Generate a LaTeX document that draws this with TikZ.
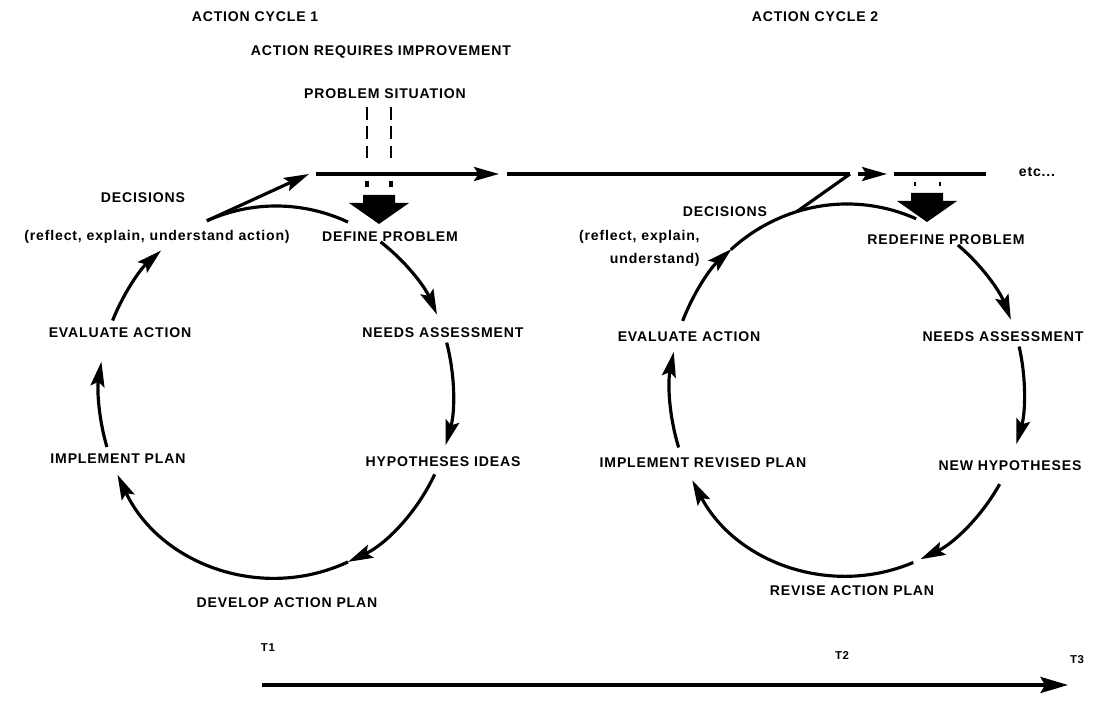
\documentclass[tikz,border=0pt]{standalone}
\usepackage{fontspec}
\setmainfont{Liberation Sans}[LetterSpace=6]
\usetikzlibrary{arrows.meta,calc}

\begin{document}
\begin{tikzpicture}[x=0.2mm, y=0.2mm,
      lbl/.style={font=\bfseries\fontsize{8}{13}\selectfont, inner sep=0pt},
      small/.style={font=\bfseries\fontsize{6.5}{8}\selectfont, inner sep=0pt},
      flow/.style={line width=1.8pt, -{Stealth[length=5mm,width=2.8mm,inset=0.9mm]}},
      plain/.style={line width=1.8pt},
      dashes/.style={line width=1.6pt, dash pattern=on 2.6mm off 1.3mm}]
      \useasboundingbox (0,0) rectangle (1097,720);

      % headings
      \node [lbl] (cyc1) at (255,703) {ACTION CYCLE 1};
      \node [lbl] (cyc2) at (815,703) {ACTION CYCLE 2};
      \node [lbl] (improve) at (381,668) {ACTION REQUIRES IMPROVEMENT};
      \node [lbl] (probsit) at (385,626) {PROBLEM SITUATION};

      % cycle 1
      \coordinate (C1) at (276,328);
      \node [lbl] (dec1) at (143,522) {DECISIONS};
      \node [lbl] (refl1) at (157,483) {(reflect, explain, understand action)};
      \node [lbl] (define) at (390,483) {DEFINE PROBLEM};
      \node [lbl] (needs1) at (443,387) {NEEDS ASSESSMENT};
      \node [lbl] (hyp1) at (443,258) {HYPOTHESES IDEAS};
      \node [lbl] (develop) at (287,117) {DEVELOP ACTION PLAN};
      \node [lbl] (impl1) at (118,261) {IMPLEMENT PLAN};
      \node [lbl] (eval1) at (120,387) {EVALUATE ACTION};
      \foreach \s/\e in {53.8/24.6, 15.4/-16.6, -26.3/-66, -66/-153.6, -162.8/-189.4, -202.6/-229.5}
            \draw [flow] ($(C1)+(\s:177 and 186)$) arc [start angle=\s, end angle=\e, x radius=177, y radius=186];
      \draw [plain] ($(C1)+(113:177 and 186)$) coordinate (d1)
            arc [start angle=113, end angle=66, x radius=177, y radius=186];

      % cycle 2
      \coordinate (C2) at (847,330);
      \node [lbl] (dec2) at (725,508) {DECISIONS};
      \node [lbl, anchor=east, align=right] (refl2) at (700,472) {(reflect, explain,\\understand)};
      \node [lbl] (redefine) at (946,480) {REDEFINE PROBLEM};
      \node [lbl] (needs2) at (1003,383) {NEEDS ASSESSMENT};
      \node [lbl] (newhyp) at (1010,254) {NEW HYPOTHESES};
      \node [lbl] (revise) at (852,129) {REVISE ACTION PLAN};
      \node [lbl] (impl2) at (703,257) {IMPLEMENT REVISED PLAN};
      \node [lbl] (eval2) at (689,383) {EVALUATE ACTION};
      \foreach \s/\e in {51.2/22.2, 13.5/-16.9, -30.4/-65.5, -68/-151, -162/-191.8, -201.8/-229.3}
            \draw [flow] ($(C2)+(\s:177 and 186)$) arc [start angle=\s, end angle=\e, x radius=177, y radius=186];
      \draw [plain] ($(C2)+(131:177 and 186)$)
            arc [start angle=131, end angle=67, x radius=177, y radius=186];
      \coordinate (d2) at ($(C2)+(106.5:177 and 186)$);

      % line of action
      \coordinate (m1) at (316,546);
      \coordinate (m2) at (499,546);
      \coordinate (m3) at (507,546);
      \coordinate (m4) at (850,546);
      \coordinate (m5) at (887,546);
      \coordinate (m6) at (894,546);
      \coordinate (m7) at (986,546);
      \node [lbl] (etc) at (1037,548) {etc...};
      \draw [flow] (d1) -- (309,546);
      \draw [flow] (m1) -- (m2);
      \draw [plain] (m3) -- (m4);
      \draw [plain] (d2) -- (m4);
      \draw [flow, shorten <=1.6mm] (m4) -- (m5);
      \draw [plain] (m6) -- (m7);

      % problem arrows
      \coordinate (down1) at (379,517);
      \coordinate (down2) at (927,519);
      \foreach \p in {down1, down2}
            \fill (\p) +(-16,8) -- +(16,8) -- +(16,0) -- +(30,0) -- +(0,-21) -- +(-30,0) -- +(-16,0) -- cycle;
      \draw [dashes] ($(down1)+(-12,96)$) -- ++(0,-51);
      \draw [dashes] ($(down1)+(12,96)$) -- ++(0,-51);
      \draw [plain] ($(down1)+(-12,22)$) -- ++(0,-6);
      \draw [plain] ($(down1)+(12,22)$) -- ++(0,-6);
      \draw [line width=1pt] ($(down2)+(-12,19)$) -- ++(0,-4);
      \draw [line width=1pt] ($(down2)+(13,19)$) -- ++(0,-4);

      % time line
      \node [small] (t1) at (268,72) {T1};
      \node [small] (t2) at (842,64) {T2};
      \node [small] (t3) at (1077,60) {T3};
      \coordinate (tstart) at (262,35);
      \coordinate (tend) at (1068,35);
      \draw [line width=2pt, -{Stealth[length=5.5mm,width=3.2mm,inset=0.9mm]}] (tstart) -- (tend);
\end{tikzpicture}
\end{document}
